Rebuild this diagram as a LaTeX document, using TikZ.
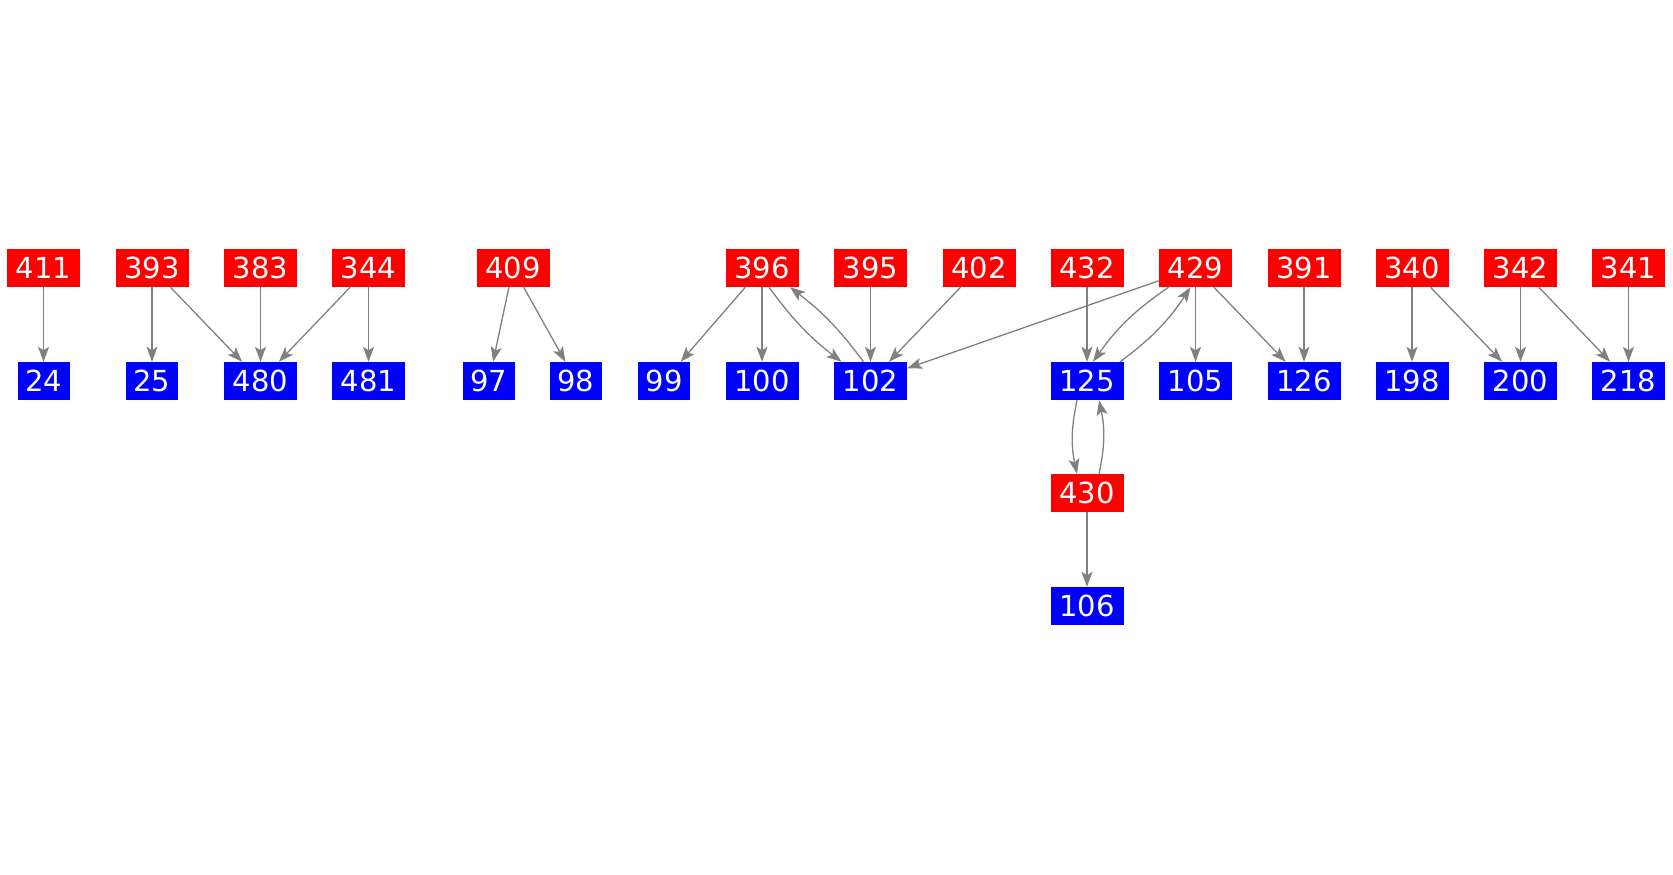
\documentclass[tikz,border=0pt]{standalone}
\usepackage{fontspec}
\setmainfont{DejaVu Sans}
\usetikzlibrary{arrows.meta}
\begin{document}
\begin{tikzpicture}[x=1pt,y=1pt,
  src/.style={rectangle, fill=red, text=white, inner sep=0pt, minimum width=73pt, minimum height=38pt, font=\fontsize{29}{32}\selectfont},
  dst/.style={src, fill=blue},
  narrow/.style={minimum width=52pt},
  edge/.style={draw=gray, line width=1.3pt, -{Stealth[length=15pt,width=11pt,inset=3.5pt]}}]
\useasboundingbox (0,0) rectangle (1673,-875);
% top row (red)
\node[src] (n411) at (43.5,-268) {411};
\node[src] (n393) at (152,-268) {393};
\node[src] (n383) at (260.5,-268) {383};
\node[src] (n344) at (368.5,-268) {344};
\node[src] (n409) at (513,-268) {409};
\node[src] (n396) at (762,-268) {396};
\node[src] (n395) at (870.5,-268) {395};
\node[src] (n402) at (979,-268) {402};
\node[src] (n432) at (1087,-268) {432};
\node[src] (n429) at (1195.5,-268) {429};
\node[src] (n391) at (1304,-268) {391};
\node[src] (n340) at (1412,-268) {340};
\node[src] (n342) at (1520.5,-268) {342};
\node[src] (n341) at (1628.5,-268) {341};
% second row (blue)
\node[dst,narrow] (n24) at (43.5,-381) {24};
\node[dst,narrow] (n25) at (152,-381) {25};
\node[dst] (n480) at (260.5,-381) {480};
\node[dst] (n481) at (368.5,-381) {481};
\node[dst,narrow] (n97) at (489,-381) {97};
\node[dst,narrow] (n98) at (576,-381) {98};
\node[dst,narrow] (n99) at (664,-381) {99};
\node[dst] (n100) at (762,-381) {100};
\node[dst] (n102) at (870.5,-381) {102};
\node[dst] (n125) at (1087,-381) {125};
\node[dst] (n105) at (1195.5,-381) {105};
\node[dst] (n126) at (1304,-381) {126};
\node[dst] (n198) at (1412,-381) {198};
\node[dst] (n200) at (1520.5,-381) {200};
\node[dst] (n218) at (1628.5,-381) {218};
% lower
\node[src] (n430) at (1087,-493) {430};
\node[dst] (n106) at (1087,-606) {106};
% edges
\draw[edge] (n411) -- (n24);
\draw[edge] (n393) -- (n25);
\draw[edge] (n393) -- (n480);
\draw[edge] (n383) -- (n480);
\draw[edge] (n344) -- (n480);
\draw[edge] (n344) -- (n481);
\draw[edge] (n409) -- (n97);
\draw[edge] (n409) -- (n98);
\draw[edge] (n396) -- (n99);
\draw[edge] (n396) -- (n100);
\draw[edge] ([xshift=7pt]n396.south) to[bend right=8] ([xshift=-29pt]n102.north);
\draw[edge] ([xshift=-7pt]n102.north) to[bend right=8] ([xshift=28pt]n396.south);
\draw[edge] (n395) -- (n102);
\draw[edge] (n402) -- (n102);
\draw[edge] (n429) -- (n102);
\draw[edge] (n432) -- (n125);
\draw[edge] ([xshift=-27pt]n429.south) to[bend right=10] ([xshift=6pt]n125.north);
\draw[edge] ([xshift=33pt]n125.north) to[bend right=10] ([xshift=-5pt]n429.south);
\draw[edge] (n429) -- (n105);
\draw[edge] (n429) -- (n126);
\draw[edge] (n391) -- (n126);
\draw[edge] (n340) -- (n198);
\draw[edge] (n340) -- (n200);
\draw[edge] (n342) -- (n200);
\draw[edge] (n342) -- (n218);
\draw[edge] (n341) -- (n218);
\draw[edge] ([xshift=-10pt]n125.south) to[bend right=12] ([xshift=-10pt]n430.north);
\draw[edge] ([xshift=12pt]n430.north) to[bend right=12] ([xshift=12pt]n125.south);
\draw[edge] (n430) -- (n106);
\end{tikzpicture}
\end{document}
